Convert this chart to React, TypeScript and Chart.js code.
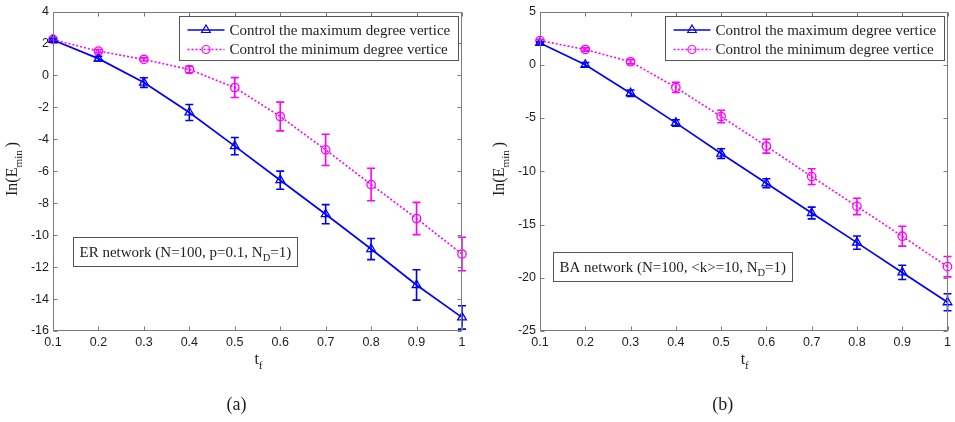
import React, { useEffect, useRef } from "react";
import { Chart, registerables } from "chart.js";

Chart.register(...registerables);

// ---------- data ----------
const tf = [0.1, 0.2, 0.3, 0.4, 0.5, 0.6, 0.7, 0.8, 0.9, 1.0];

// (a) ER network
const erMax = [2.22, 1.05, -0.45, -2.32, -4.43, -6.56, -8.69, -10.87, -13.12, -15.15];
const erMaxErr = [0.08, 0.15, 0.3, 0.5, 0.54, 0.57, 0.6, 0.66, 0.95, 0.73];
const erMin = [2.25, 1.52, 1.0, 0.37, -0.76, -2.57, -4.66, -6.83, -8.96, -11.18];
const erMinErr = [0.08, 0.1, 0.1, 0.2, 0.62, 0.9, 0.98, 1.02, 1.01, 1.05];

// (b) BA network
const baMax = [2.05, 0.0, -2.67, -5.46, -8.34, -11.13, -13.92, -16.7, -19.5, -22.3];
const baMaxErr = [0.1, 0.2, 0.3, 0.3, 0.45, 0.42, 0.55, 0.62, 0.67, 0.8];
const baMin = [2.27, 1.43, 0.28, -2.13, -4.86, -7.65, -10.5, -13.3, -16.1, -18.96];
const baMinErr = [0.1, 0.15, 0.2, 0.48, 0.59, 0.65, 0.74, 0.77, 0.93, 0.96];

const legendLabels = ["Control the maximum degree vertice", "Control the minimum degree vertice"];

// ---------- style ----------
const BLUE = "#0000ff";
const MAG = "#ff00ff";
const AXIS = "#7a7a7a";
const TEXT = "#1e1e1e";
const SERIF = "'Liberation Serif', 'Times New Roman', serif";
const SANS = "'Liberation Sans', Arial, sans-serif";

type Part = { t: string; sub?: boolean };

type PanelSpec = {
  max: number[];
  maxErr: number[];
  min: number[];
  minErr: number[];
  yMin: number;
  yMax: number;
  yStep: number;
  yAxisWidth: number;
  rightPad: number;
  note: Part[];
  noteDx: number;
  noteTop: number;
  caption: string;
};

const panelA: PanelSpec = {
  max: erMax,
  maxErr: erMaxErr,
  min: erMin,
  minErr: erMinErr,
  yMin: -16,
  yMax: 4,
  yStep: 2,
  yAxisWidth: 53,
  rightPad: 16,
  note: [{ t: "ER network (N=100, p=0.1, N" }, { t: "D", sub: true }, { t: "=1)" }],
  noteDx: 20,
  noteTop: 237,
  caption: "(a)",
};

const panelB: PanelSpec = {
  max: baMax,
  maxErr: baMaxErr,
  min: baMin,
  minErr: baMinErr,
  yMin: -25,
  yMax: 5,
  yStep: 5,
  yAxisWidth: 62,
  rightPad: 5,
  note: [{ t: "BA network (N=100, <k>=10, N" }, { t: "D", sub: true }, { t: "=1)" }],
  noteDx: 13,
  noteTop: 252,
  caption: "(b)",
};

// ---------- drawing helpers ----------
function partsWidth(ctx: CanvasRenderingContext2D, parts: Part[], size: number) {
  let w = 0;
  for (const p of parts) {
    ctx.font = `${p.sub ? size * 0.7 : size}px ${SERIF}`;
    w += ctx.measureText(p.t).width;
  }
  return w;
}

function drawParts(ctx: CanvasRenderingContext2D, parts: Part[], x: number, y: number, size: number) {
  let cx = x;
  ctx.textAlign = "left";
  ctx.textBaseline = "alphabetic";
  for (const p of parts) {
    const s = p.sub ? size * 0.7 : size;
    ctx.font = `${s}px ${SERIF}`;
    ctx.fillText(p.t, cx, p.sub ? y + size * 0.3 : y);
    cx += ctx.measureText(p.t).width;
  }
}

function triangle(ctx: CanvasRenderingContext2D, x: number, y: number, r: number) {
  ctx.beginPath();
  ctx.moveTo(x, y - r);
  ctx.lineTo(x + r * 0.866, y + r * 0.5);
  ctx.lineTo(x - r * 0.866, y + r * 0.5);
  ctx.closePath();
  ctx.stroke();
}

function circle(ctx: CanvasRenderingContext2D, x: number, y: number, r: number) {
  ctx.beginPath();
  ctx.arc(x, y, r, 0, Math.PI * 2);
  ctx.stroke();
}

function makeConfig(spec: PanelSpec): any {
  const decor = {
    id: "matlabDecor",
    afterDatasetsDraw(chart: any) {
      const ctx: CanvasRenderingContext2D = chart.ctx;
      const xs = chart.scales.x;
      const ys = chart.scales.y;
      ctx.save();
      ctx.lineWidth = 1.6;
      const series: [number[], number[], string][] = [
        [spec.min, spec.minErr, MAG],
        [spec.max, spec.maxErr, BLUE],
      ];
      for (const [vals, errs, col] of series) {
        ctx.strokeStyle = col;
        vals.forEach((v, i) => {
          const px = xs.getPixelForValue(tf[i]);
          const top = ys.getPixelForValue(v + errs[i]);
          const bot = ys.getPixelForValue(v - errs[i]);
          ctx.beginPath();
          ctx.moveTo(px, top);
          ctx.lineTo(px, bot);
          ctx.moveTo(px - 4, top);
          ctx.lineTo(px + 4, top);
          ctx.moveTo(px - 4, bot);
          ctx.lineTo(px + 4, bot);
          ctx.stroke();
        });
      }
      ctx.restore();
    },
    afterDraw(chart: any) {
      const ctx: CanvasRenderingContext2D = chart.ctx;
      const a = chart.chartArea;
      const xs = chart.scales.x;
      const ys = chart.scales.y;
      ctx.save();

      // axes box
      const L = Math.round(a.left) + 0.5;
      const R = Math.round(a.right) - 0.5;
      const T = Math.round(a.top) + 0.5;
      const B = Math.round(a.bottom) - 0.5;
      ctx.strokeStyle = AXIS;
      ctx.lineWidth = 1;
      ctx.setLineDash([]);
      ctx.strokeRect(L, T, R - L, B - T);
      ctx.beginPath();
      xs.ticks.forEach((t: any) => {
        const px = Math.round(xs.getPixelForValue(t.value)) + 0.5;
        ctx.moveTo(px, B);
        ctx.lineTo(px, B - 4);
        ctx.moveTo(px, T);
        ctx.lineTo(px, T + 4);
      });
      ys.ticks.forEach((t: any) => {
        const py = Math.round(ys.getPixelForValue(t.value)) + 0.5;
        ctx.moveTo(L, py);
        ctx.lineTo(L + 4, py);
        ctx.moveTo(R, py);
        ctx.lineTo(R - 4, py);
      });
      ctx.stroke();

      // legend
      const LS = 15;
      ctx.font = `${LS}px ${SERIF}`;
      const tw = Math.max(...legendLabels.map((l) => ctx.measureText(l).width));
      const bw = Math.round(50 + tw + 8);
      const bh = 44;
      const bx = Math.round(a.right - 4 - bw) + 0.5;
      const by = Math.round(a.top + 4) + 0.5;
      ctx.fillStyle = "#fff";
      ctx.fillRect(bx, by, bw, bh);
      ctx.strokeStyle = "#555";
      ctx.lineWidth = 1;
      ctx.strokeRect(bx, by, bw, bh);
      const rows = [by + 13.5, by + 33];
      rows.forEach((ry, i) => {
        const col = i === 0 ? BLUE : MAG;
        ctx.strokeStyle = col;
        ctx.lineWidth = 1.6;
        ctx.setLineDash(i === 0 ? [] : [2, 2]);
        ctx.beginPath();
        ctx.moveTo(bx + 8, ry);
        ctx.lineTo(bx + 45, ry);
        ctx.stroke();
        ctx.setLineDash([]);
        ctx.lineWidth = 1.2;
        if (i === 0) triangle(ctx, bx + 26.5, ry, 5);
        else circle(ctx, bx + 26.5, ry, 4);
        ctx.fillStyle = TEXT;
        ctx.font = `${LS}px ${SERIF}`;
        ctx.textAlign = "left";
        ctx.textBaseline = "middle";
        ctx.fillText(legendLabels[i], bx + 50, ry + 1);
      });

      // annotation box
      const NS = 15;
      const nw = partsWidth(ctx, spec.note, NS);
      const nx = Math.round(a.left + spec.noteDx) + 0.5;
      const ny = spec.noteTop + 0.5;
      ctx.fillStyle = "#fff";
      ctx.fillRect(nx, ny, nw + 12, 29);
      ctx.strokeStyle = "#555";
      ctx.lineWidth = 1;
      ctx.strokeRect(nx, ny, Math.round(nw + 12), 29);
      ctx.fillStyle = TEXT;
      drawParts(ctx, spec.note, nx + 6, ny + 19, NS);

      // x label t_f
      const cxm = (a.left + a.right) / 2;
      const xl: Part[] = [{ t: "t" }, { t: "f", sub: true }];
      const xw = partsWidth(ctx, xl, 16);
      drawParts(ctx, xl, cxm - xw / 2 + 1, 364, 16);

      // y label
      const yl: Part[] = [{ t: "In(E" }, { t: "min ", sub: true }, { t: ")" }];
      const yw = partsWidth(ctx, yl, 16);
      ctx.save();
      ctx.translate(a.left - 36, 169);
      ctx.rotate(-Math.PI / 2);
      drawParts(ctx, yl, -yw / 2, 0, 16);
      ctx.restore();

      // caption
      ctx.font = `18px ${SERIF}`;
      ctx.textAlign = "center";
      ctx.textBaseline = "alphabetic";
      ctx.fillStyle = TEXT;
      ctx.fillText(spec.caption, cxm - 21, 410);

      ctx.restore();
    },
  };

  return {
    type: "line",
    data: {
      datasets: [
        {
          label: legendLabels[0],
          data: tf.map((x, i) => ({ x, y: spec.max[i] })),
          borderColor: BLUE,
          backgroundColor: "rgba(0,0,0,0)",
          borderWidth: 1.7,
          pointStyle: "triangle",
          pointRadius: 5,
          pointBorderWidth: 1.3,
          pointBorderColor: BLUE,
          pointBackgroundColor: "rgba(0,0,0,0)",
          tension: 0,
          clip: false,
        },
        {
          label: legendLabels[1],
          data: tf.map((x, i) => ({ x, y: spec.min[i] })),
          borderColor: MAG,
          backgroundColor: "rgba(0,0,0,0)",
          borderWidth: 1.6,
          borderDash: [2, 2],
          pointStyle: "circle",
          pointRadius: 4.2,
          pointBorderWidth: 1.3,
          pointBorderColor: MAG,
          pointBackgroundColor: "rgba(0,0,0,0)",
          tension: 0,
          clip: false,
        },
      ],
    },
    options: {
      responsive: false,
      animation: false,
      events: [],
      layout: { padding: { top: 8, right: spec.rightPad, left: 0, bottom: 0 } },
      plugins: { legend: { display: false }, tooltip: { enabled: false } },
      scales: {
        x: {
          type: "linear",
          min: 0.1,
          max: 1,
          grid: { display: false, drawTicks: false },
          border: { display: false },
          ticks: {
            stepSize: 0.1,
            padding: 4,
            autoSkip: false,
            maxRotation: 0,
            color: TEXT,
            font: { family: SANS, size: 12.5 },
            callback: (v: any) => String(Math.round(Number(v) * 10) / 10),
          },
          afterFit: (s: any) => {
            s.height = 91;
          },
        },
        y: {
          type: "linear",
          min: spec.yMin,
          max: spec.yMax,
          grid: { display: false, drawTicks: false },
          border: { display: false },
          ticks: {
            stepSize: spec.yStep,
            padding: 4,
            autoSkip: false,
            color: TEXT,
            font: { family: SANS, size: 12.5 },
            callback: (v: any) => String(Math.round(Number(v))),
          },
          afterFit: (s: any) => {
            s.width = spec.yAxisWidth;
          },
        },
      },
    },
    plugins: [decor],
  };
}

function Panel({ spec, left, width }: { spec: PanelSpec; left: number; width: number }) {
  const ref = useRef<HTMLCanvasElement>(null);
  useEffect(() => {
    const chart = new Chart(ref.current as HTMLCanvasElement, makeConfig(spec));
    return () => chart.destroy();
  }, [spec]);
  return (
    <canvas
      ref={ref}
      width={width}
      height={422}
      style={{ position: "absolute", left, top: 0, width, height: 422, display: "block" }}
    />
  );
}

export default function App() {
  return (
    <div
      style={{
        position: "fixed",
        left: 0,
        top: 0,
        width: 955,
        height: 422,
        background: "#fff",
        overflow: "hidden",
      }}
    >
      <Panel spec={panelA} left={0} width={478} />
      <Panel spec={panelB} left={478} width={477} />
    </div>
  );
}
